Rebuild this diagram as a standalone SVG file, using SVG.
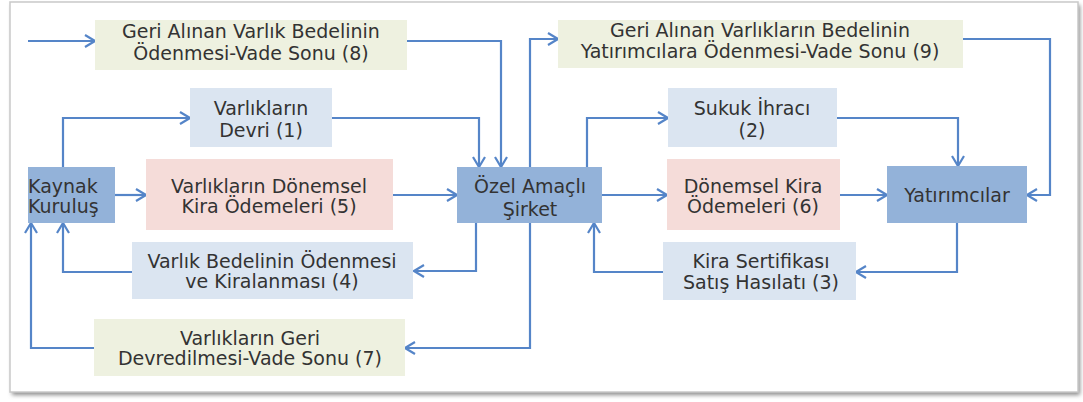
<svg xmlns="http://www.w3.org/2000/svg" width="1083" height="402" viewBox="0 0 1083 402">
<defs>
<style>
.t{font-family:"DejaVu Sans","Verdana",sans-serif;font-size:19px;fill:#333333;text-anchor:middle}
.dk{fill:#93b2d9}
.lb{fill:#dbe5f1}
.pk{fill:#f5dcd9}
.gr{fill:#eef1e0}
.c{fill:none;stroke:#5585c8;stroke-width:2.2;marker-end:url(#ah)}
</style>
<marker id="ah" viewBox="0 0 12 14" refX="11" refY="7" markerWidth="12" markerHeight="14" markerUnits="userSpaceOnUse" orient="auto">
<polyline points="1,1 11,7 1,13" fill="none" stroke="#5585c8" stroke-width="2.2"/>
</marker>
<filter id="sh" x="-5%" y="-5%" width="110%" height="115%"><feGaussianBlur stdDeviation="2"/></filter>
</defs>
<rect x="0" y="0" width="1083" height="402" fill="#ffffff"/>
<g id="frame">
<rect x="12" y="5" width="1068" height="390" fill="#8a8a8a" filter="url(#sh)"/>
<rect x="10" y="2" width="1068" height="390" fill="#ffffff" stroke="#c9c9c9" stroke-width="1.5"/>
</g>
<g id="connectors">
<path class="c" d="M28,41 H95"/>
<path class="c" d="M407,41 H501 V167"/>
<path class="c" d="M332,118 H479 V167"/>
<path class="c" d="M63,167 V118 H190"/>
<path class="c" d="M115,195 H146"/>
<path class="c" d="M393,195 H457"/>
<path class="c" d="M602,195 H667"/>
<path class="c" d="M840,195 H887"/>
<path class="c" d="M530,167 V39 H558"/>
<path class="c" d="M587,167 V118 H668"/>
<path class="c" d="M837,118 H958 V166"/>
<path class="c" d="M963,39 H1050 V195 H1027"/>
<path class="c" d="M957,223 V272 H856"/>
<path class="c" d="M663,272 H594 V223"/>
<path class="c" d="M476,223 V271 H414"/>
<path class="c" d="M132,272 H63 V223"/>
<path class="c" d="M530,223 V348 H405"/>
<path class="c" d="M94,348 H31 V223"/>
</g>
<g id="n8"><rect class="gr" x="95" y="20" width="312" height="50"/><text class="t" x="251" y="38">Geri Alınan Varlık Bedelinin</text><text class="t" x="251" y="60">Ödenmesi-Vade Sonu (8)</text></g>
<g id="n9"><rect class="gr" x="558" y="20" width="405" height="48"/><text class="t" x="760" y="37">Geri Alınan Varlıkların Bedelinin</text><text class="t" x="760" y="58">Yatırımcılara Ödenmesi-Vade Sonu (9)</text></g>
<g id="n1"><rect class="lb" x="190" y="88" width="142" height="59"/><text class="t" x="261" y="115">Varlıkların</text><text class="t" x="261" y="137">Devri (1)</text></g>
<g id="n2"><rect class="lb" x="668" y="88" width="169" height="59"/><text class="t" x="752" y="115">Sukuk İhracı</text><text class="t" x="752" y="137">(2)</text></g>
<g id="kaynak"><rect class="dk" x="28" y="167" width="87" height="56"/><text class="t" x="28" y="193" style="text-anchor:start">Kaynak</text><text class="t" x="28" y="213" style="text-anchor:start">Kuruluş</text></g>
<g id="n5"><rect class="pk" x="146" y="159" width="247" height="71"/><text class="t" x="269" y="193">Varlıkların Dönemsel</text><text class="t" x="269" y="213">Kira Ödemeleri (5)</text></g>
<g id="ozel"><rect class="dk" x="457" y="167" width="145" height="56"/><text class="t" x="530" y="193">Özel Amaçlı</text><text class="t" x="530" y="216">Şirket</text></g>
<g id="n6"><rect class="pk" x="667" y="159" width="173" height="71"/><text class="t" x="753" y="193">Dönemsel Kira</text><text class="t" x="753" y="213">Ödemeleri (6)</text></g>
<g id="yat"><rect class="dk" x="887" y="166" width="140" height="57"/><text class="t" x="957" y="202">Yatırımcılar</text></g>
<g id="n4"><rect class="lb" x="132" y="242" width="281" height="57"/><text class="t" x="272" y="268">Varlık Bedelinin Ödenmesi</text><text class="t" x="272" y="288">ve Kiralanması (4)</text></g>
<g id="n3"><rect class="lb" x="663" y="242" width="193" height="58"/><text class="t" x="761" y="268">Kira Sertifikası</text><text class="t" x="761" y="289">Satış Hasılatı (3)</text></g>
<g id="n7"><rect class="gr" x="94" y="319" width="311" height="57"/><text class="t" x="250" y="345">Varlıkların Geri</text><text class="t" x="250" y="365">Devredilmesi-Vade Sonu (7)</text></g>
</svg>
